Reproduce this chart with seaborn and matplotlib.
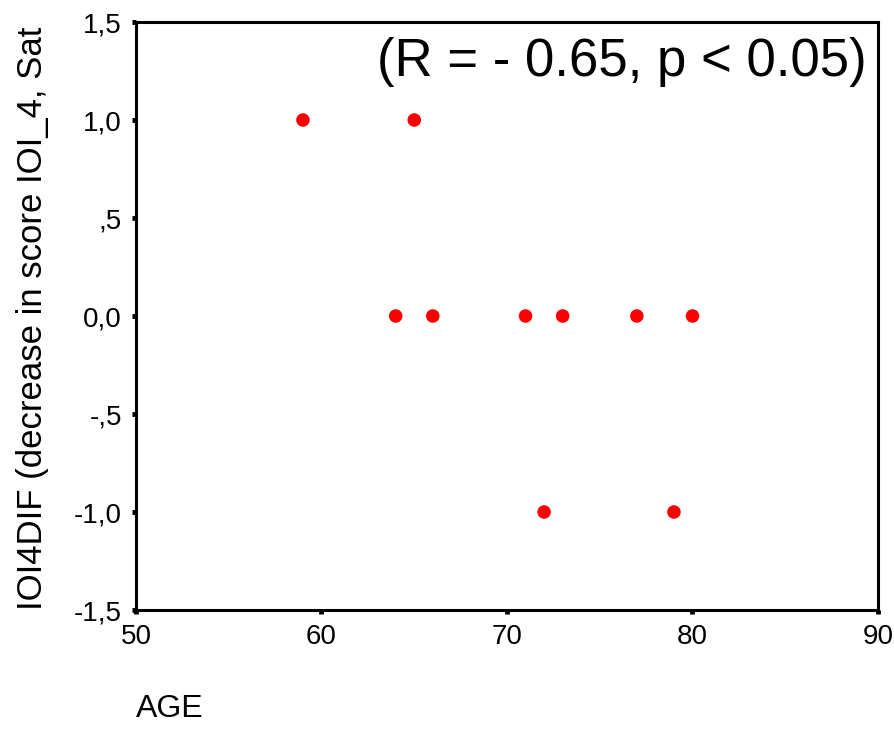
import matplotlib
matplotlib.use("Agg")
import matplotlib.pyplot as plt
import seaborn as sns
import pandas as pd

# Data
age = [59, 65, 64, 66, 71, 73, 77, 80, 72, 79]
ioi4dif = [1.0, 1.0, 0.0, 0.0, 0.0, 0.0, 0.0, 0.0, -1.0, -1.0]
x_ticks = [50, 60, 70, 80, 90]
y_ticks = [1.5, 1.0, 0.5, 0.0, -0.5, -1.0, -1.5]
y_tick_labels = ["1,5", "1,0", ",5", "0,0", "-,5", "-1,0", "-1,5"]
annotation = "(R = - 0.65, p < 0.05)"

sns.set_style("white")
plt.rcParams["font.family"] = ["Liberation Sans", "DejaVu Sans"]
plt.rcParams["text.color"] = "black"
plt.rcParams["axes.labelcolor"] = "black"
plt.rcParams["xtick.color"] = "black"
plt.rcParams["ytick.color"] = "black"

df = pd.DataFrame({"AGE": age, "IOI4DIF": ioi4dif})

fig = plt.figure(figsize=(8.95, 7.3), dpi=100)
ax = fig.add_axes([136 / 895, 1 - 610 / 730, (878 - 136) / 895, (610 - 22) / 730])

sns.scatterplot(data=df, x="AGE", y="IOI4DIF", ax=ax, color="#ff0000",
                s=95, edgecolor="none", linewidth=0, legend=False)

ax.set_xlim(50, 90)
ax.set_ylim(-1.5, 1.5)
ax.set_xticks(x_ticks)
ax.set_xticklabels([str(t) for t in x_ticks])
ax.set_yticks(y_ticks)
ax.set_yticklabels(y_tick_labels)

for side in ["left", "bottom", "top", "right"]:
    ax.spines[side].set_visible(True)
    ax.spines[side].set_color("black")
    ax.spines[side].set_linewidth(2.2)

ax.tick_params(axis="both", which="major", direction="out", length=3,
               width=3.5, color="black", labelsize=20, labelcolor="black",
               left=True, bottom=True)
ax.tick_params(axis="y", pad=7)
ax.tick_params(axis="x", pad=7)

ax.set_xlabel("AGE", fontsize=23, loc="left", labelpad=32, color="black")
ax.set_ylabel("IOI4DIF (decrease in score IOI_4, Sat", fontsize=25,
              loc="bottom", labelpad=18, color="black")

ax.text(0.984, 0.932, annotation, transform=ax.transAxes, ha="right",
        va="center", fontsize=38, color="black")

fig.savefig("out.png", dpi=100)
